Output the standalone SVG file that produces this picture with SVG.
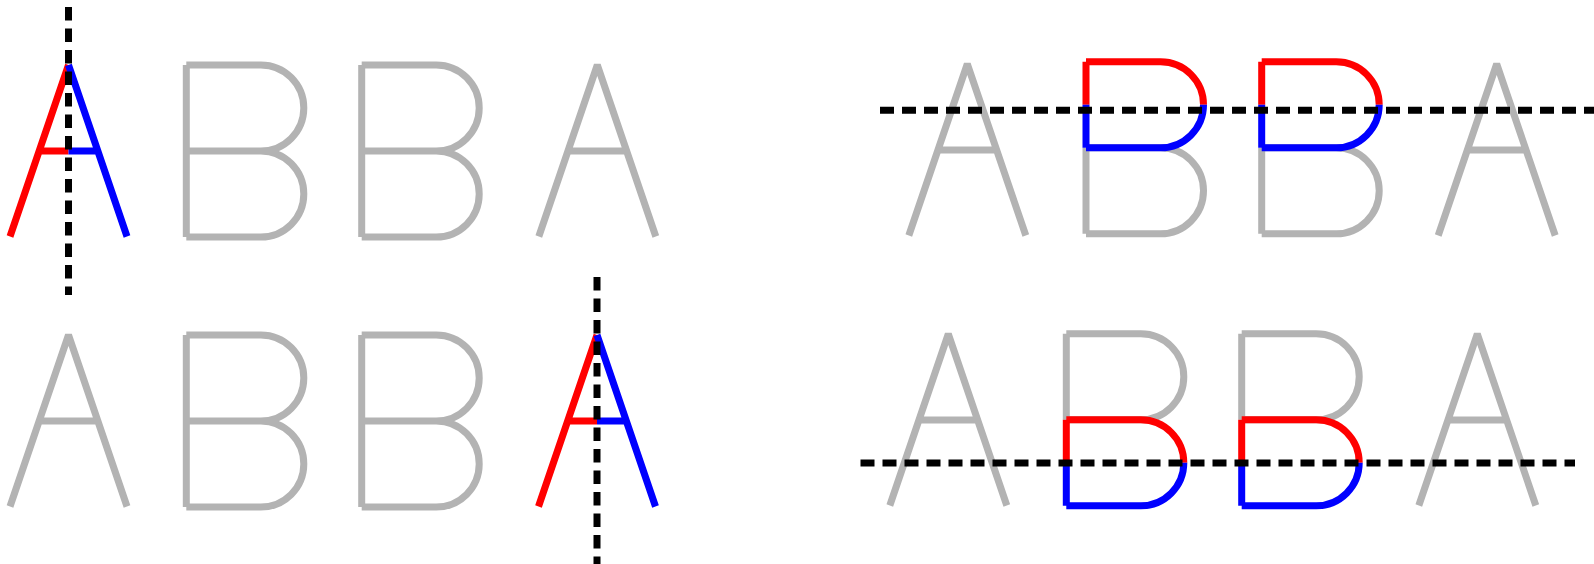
<svg xmlns="http://www.w3.org/2000/svg" width="1594" height="564" viewBox="0 0 1594 564">
  <style>
    .g { fill: none; stroke: #b3b3b3; stroke-width: 7; stroke-linecap: butt; stroke-linejoin: bevel; }
    .r { fill: none; stroke: #ff0000; stroke-width: 7; stroke-linecap: butt; stroke-linejoin: bevel; }
    .b { fill: none; stroke: #0000ff; stroke-width: 7; stroke-linecap: butt; stroke-linejoin: bevel; }
    .dv { fill: none; stroke: #000000; stroke-width: 7; stroke-dasharray: 13.5 8; }
    .dh { fill: none; stroke: #000000; stroke-width: 7; stroke-dasharray: 14 8; }
  </style>
  <defs>
    <g id="gA">
      <path class="g" d="M-58.5 171.5 L0 0 L58.5 171.5 M-29.34 86 H29.34"/>
    </g>
    <g id="cA">
      <path class="r" d="M0 0 L-58.5 171.5 M-29.34 86 H0"/>
      <path class="b" d="M0 0 L58.5 171.5 M0 86 H29.34"/>
    </g>
    <g id="gB">
      <path class="g" d="M0 0 V172 M0 0 H74.5 A43 43 0 0 1 74.5 86 H0 M0 86 H74.5 A43 43 0 0 1 74.5 172 H0"/>
    </g>
    <g id="tB">
      <path class="g" d="M0 86 V172 M0 86 H74.5 A43 43 0 0 1 74.5 172 H0"/>
      <path class="r" d="M0 43 V0 M0 0 H74.5 A43 43 0 0 1 117.5 43"/>
      <path class="b" d="M0 43 V86 M117.5 43 A43 43 0 0 1 74.5 86 H0"/>
    </g>
    <g id="bB">
      <path class="g" d="M0 0 V86 M0 0 H74.5 A43 43 0 0 1 74.5 86 H0"/>
      <path class="r" d="M0 86 V129 M0 86 H74.5 A43 43 0 0 1 117.5 129"/>
      <path class="b" d="M0 129 V172 M117.5 129 A43 43 0 0 1 74.5 172 H0"/>
    </g>
  </defs>

  <!-- top-left row -->
  <g id="tl-A1" transform="translate(68.5,65)"><use href="#cA"/></g>
  <g id="tl-B1" transform="translate(186.3,65)"><use href="#gB"/></g>
  <g id="tl-B2" transform="translate(361.7,65)"><use href="#gB"/></g>
  <g id="tl-A2" transform="translate(597.3,65)"><use href="#gA"/></g>

  <!-- bottom-left row -->
  <g id="bl-A1" transform="translate(68.5,335)"><use href="#gA"/></g>
  <g id="bl-B1" transform="translate(186.3,335)"><use href="#gB"/></g>
  <g id="bl-B2" transform="translate(361.7,335)"><use href="#gB"/></g>
  <g id="bl-A2" transform="translate(597,335)"><use href="#cA"/></g>

  <!-- top-right row -->
  <g id="tr-A1" transform="translate(967.3,64)"><use href="#gA"/></g>
  <g id="tr-B1" transform="translate(1086,61.8)"><use href="#tB"/></g>
  <g id="tr-B2" transform="translate(1261.7,61.8)"><use href="#tB"/></g>
  <g id="tr-A2" transform="translate(1496.7,64)"><use href="#gA"/></g>

  <!-- bottom-right row -->
  <g id="br-A1" transform="translate(948.3,334)"><use href="#gA"/></g>
  <g id="br-B1" transform="translate(1066.3,333.8)"><use href="#bB"/></g>
  <g id="br-B2" transform="translate(1241.7,333.8)"><use href="#bB"/></g>
  <g id="br-A2" transform="translate(1477.3,334)"><use href="#gA"/></g>

  <!-- axes -->
  <g id="connectors">
    <path class="dv" d="M68.5 7 V295"/>
    <path class="dv" d="M597 277 V570"/>
    <path class="dh" d="M880 110.3 H1600"/>
    <path class="dh" d="M860.5 463 H1575"/>
  </g>
</svg>
